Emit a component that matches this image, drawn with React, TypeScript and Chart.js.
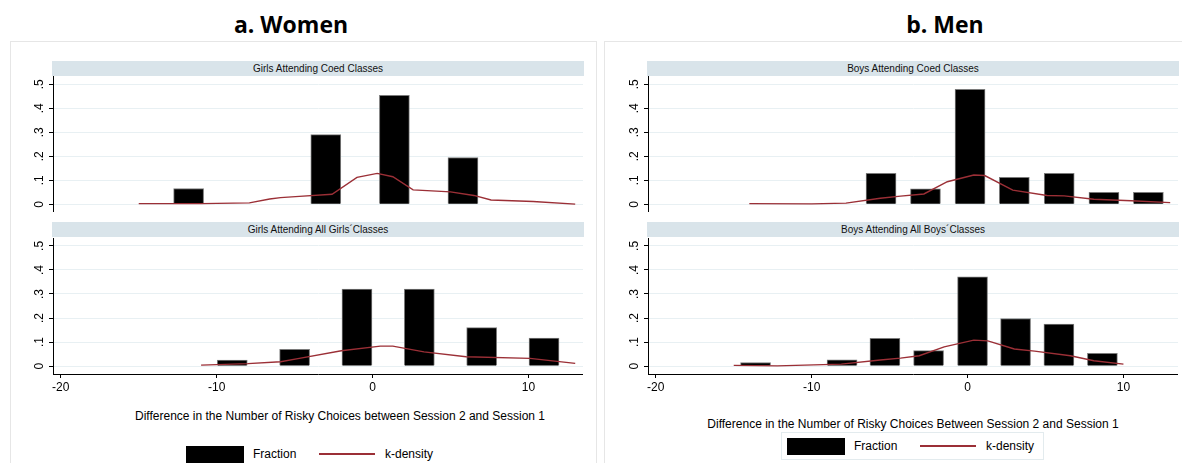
import React, { useEffect, useRef } from 'react';
import { Chart, registerables } from 'chart.js';

Chart.register(...registerables);

// ---------- data ----------
const X_TICKS = [-20, -10, 0, 10];
const Y_TICKS = [0, 0.1, 0.2, 0.3, 0.4, 0.5];
const Y_TICK_LABELS = ['0', '.1', '.2', '.3', '.4', '.5'];

const PANEL_TITLES = ['a. Women', 'b. Men'];
const STRIP_LABELS = [
  'Girls Attending Coed Classes',
  'Girls Attending All Girls\u00B4Classes',
  'Boys Attending Coed Classes',
  'Boys Attending All Boys\u00B4Classes',
];
const X_TITLES = [
  'Difference in the Number of Risky Choices between Session 2 and Session 1',
  'Difference in the Number of Risky Choices Between Session 2 and Session 1',
];
const LEGEND_LABELS = ['Fraction', 'k-density'];

// Women, coed classes
const womenCoedBinX = [-11.8, -3.0, 1.4, 5.8];
const womenCoedFraction = [0.066, 0.29, 0.454, 0.195];
const womenCoedDensityX = [-15.0, -11.0, -7.9, -6.6, -5.9, -4.7, -2.6, -1.0, 0.3, 1.3, 2.6, 5.0, 6.5, 7.6, 10.3, 13.0];
const womenCoedDensityY = [0.003, 0.003, 0.006, 0.022, 0.028, 0.033, 0.042, 0.112, 0.129, 0.115, 0.06, 0.052, 0.037, 0.018, 0.012, 0.001];

// Women, all girls classes
const womenSingleBinX = [-9, -5, -1, 3, 7, 11];
const womenSingleFraction = [0.025, 0.07, 0.32, 0.32, 0.16, 0.116];
const womenSingleDensityX = [-11.0, -8.0, -5.9, -4.7, -2.0, 0.5, 1.3, 3.3, 6.0, 10.1, 13.0];
const womenSingleDensityY = [0.004, 0.01, 0.018, 0.032, 0.064, 0.083, 0.083, 0.059, 0.039, 0.032, 0.011];

// Men, coed classes
const menCoedBinX = [-5.55, -2.7, 0.16, 3.0, 5.88, 8.75, 11.6];
const menCoedFraction = [0.129, 0.065, 0.479, 0.112, 0.129, 0.05, 0.05];
const menCoedDensityX = [-14.0, -10.0, -7.8, -5.6, -4.3, -2.8, -1.3, 0.4, 1.1, 2.9, 5.1, 6.2, 8.1, 10.5, 13.0];
const menCoedDensityY = [0.003, 0.002, 0.005, 0.025, 0.034, 0.043, 0.094, 0.122, 0.12, 0.059, 0.037, 0.035, 0.021, 0.015, 0.007];

// Men, all boys classes
const menSingleBinX = [-13.6, -8.05, -5.3, -2.5, 0.32, 3.08, 5.86, 8.65];
const menSingleFraction = [0.015, 0.026, 0.115, 0.064, 0.371, 0.198, 0.175, 0.053];
const menSingleDensityX = [-15.0, -12.2, -8.1, -5.6, -4.3, -3.1, -1.5, 0.4, 1.3, 3.0, 4.3, 6.6, 8.1, 10.0];
const menSingleDensityY = [0.003, 0.001, 0.008, 0.025, 0.033, 0.043, 0.08, 0.108, 0.105, 0.071, 0.062, 0.043, 0.022, 0.008];

// ---------- styles ----------
const MAROON = '#9b2f36';
const GRID = '#e8f0f3';
const STRIP_BG = '#d9e4ea';
const FONT = '"Liberation Sans", Arial, Helvetica, sans-serif';
const X_MIN = -20.5;
const X_MAX = 13.5;

type Cfg = {
  binX: number[];
  frac: number[];
  kx: number[];
  ky: number[];
  showX: boolean;
};

function makeChart(canvas: HTMLCanvasElement, cfg: Cfg) {
  const bars = cfg.binX.map((x, i) => ({ x, y: cfg.frac[i] }));
  const line = cfg.kx.map((x, i) => ({ x, y: cfg.ky[i] }));
  return new Chart(canvas, {
    type: 'bar',
    data: {
      datasets: [
        {
          type: 'line',
          label: LEGEND_LABELS[1],
          data: line,
          borderColor: MAROON,
          borderWidth: 1.4,
          pointRadius: 0,
          tension: 0,
          fill: false,
          order: 0,
        } as any,
        {
          type: 'bar',
          label: LEGEND_LABELS[0],
          data: bars,
          backgroundColor: '#000',
          borderColor: '#7a7a7a',
          borderWidth: 1,
          barThickness: 30,
          order: 1,
        } as any,
      ],
    },
    options: {
      animation: false,
      responsive: false,
      devicePixelRatio: 1,
      layout: { padding: 0 },
      plugins: {
        legend: { display: false },
        tooltip: { enabled: false },
        title: { display: false },
      },
      scales: {
        x: {
          type: 'linear',
          min: X_MIN,
          max: X_MAX,
          offset: false,
          display: cfg.showX,
          afterBuildTicks: (s: any) => {
            s.ticks = X_TICKS.map((v) => ({ value: v }));
          },
          afterFit: (s: any) => {
            s.height = cfg.showX ? 26 : 0;
            s.paddingLeft = 0;
            s.paddingRight = 0;
          },
          grid: {
            offset: false,
            drawOnChartArea: false,
            drawTicks: true,
            tickLength: 4,
            tickColor: '#000',
          },
          border: { display: true, color: '#000', width: 1 },
          ticks: {
            padding: 2,
            maxRotation: 0,
            minRotation: 0,
            color: '#000',
            font: { family: FONT, size: 12 },
            callback: (v: any) => String(v),
          },
        },
        y: {
          type: 'linear',
          min: cfg.showX ? -0.033 : -0.032,
          max: cfg.showX ? 0.533 : 0.5345,
          afterBuildTicks: (s: any) => {
            s.ticks = Y_TICKS.map((v) => ({ value: v }));
          },
          afterFit: (s: any) => {
            s.width = 33;
            s.paddingTop = 0;
            s.paddingBottom = 0;
          },
          grid: {
            color: GRID,
            lineWidth: 1,
            drawTicks: true,
            tickLength: 4,
            tickColor: '#000',
          },
          border: { display: true, color: '#000', width: 1 },
          ticks: {
            minRotation: 90,
            maxRotation: 90,
            crossAlign: 'center',
            padding: 4,
            color: '#000',
            font: { family: FONT, size: 12 },
            callback: (_v: any, i: number) => Y_TICK_LABELS[i],
          },
        },
      },
    } as any,
  });
}

const abs = (l: number, t: number, w: number, h: number): React.CSSProperties => ({
  position: 'absolute',
  left: l,
  top: t,
  width: w,
  height: h,
});

export default function App() {
  const r1 = useRef<HTMLCanvasElement>(null);
  const r2 = useRef<HTMLCanvasElement>(null);
  const r3 = useRef<HTMLCanvasElement>(null);
  const r4 = useRef<HTMLCanvasElement>(null);

  useEffect(() => {
    const charts = [
      makeChart(r1.current!, { binX: womenCoedBinX, frac: womenCoedFraction, kx: womenCoedDensityX, ky: womenCoedDensityY, showX: false }),
      makeChart(r2.current!, { binX: womenSingleBinX, frac: womenSingleFraction, kx: womenSingleDensityX, ky: womenSingleDensityY, showX: true }),
      makeChart(r3.current!, { binX: menCoedBinX, frac: menCoedFraction, kx: menCoedDensityX, ky: menCoedDensityY, showX: false }),
      makeChart(r4.current!, { binX: menSingleBinX, frac: menSingleFraction, kx: menSingleDensityX, ky: menSingleDensityY, showX: true }),
    ];
    return () => charts.forEach((c) => c.destroy());
  }, []);

  const strip = (l: number, t: number, w: number, label: string) => (
    <div
      style={{
        ...abs(l, t, w, 15),
        background: STRIP_BG,
        color: '#111',
        fontFamily: FONT,
        fontSize: 10,
        lineHeight: '15px',
        textAlign: 'center',
        whiteSpace: 'nowrap',
      }}
    >
      {label}
    </div>
  );

  const text = (cx: number, t: number, s: string, extra: React.CSSProperties = {}) => (
    <div
      style={{
        position: 'absolute',
        left: cx,
        top: t,
        transform: 'translateX(-50%)',
        fontFamily: FONT,
        fontSize: 12,
        lineHeight: '14px',
        color: '#000',
        whiteSpace: 'nowrap',
        ...extra,
      }}
    >
      {s}
    </div>
  );

  const legendItem = (x: number, cy: number) => (
    <>
      <div style={{ ...abs(x, cy - 8.5, 58, 17), background: '#000' }} />
      <div style={{ position: 'absolute', left: x + 67, top: cy - 7, fontFamily: FONT, fontSize: 12, lineHeight: '14px', whiteSpace: 'nowrap' }}>
        {LEGEND_LABELS[0]}
      </div>
      <div style={{ ...abs(x + 133, cy - 0.7, 56, 1.4), background: MAROON }} />
      <div style={{ position: 'absolute', left: x + 199, top: cy - 7, fontFamily: FONT, fontSize: 12, lineHeight: '14px', whiteSpace: 'nowrap' }}>
        {LEGEND_LABELS[1]}
      </div>
    </>
  );

  return (
    <div style={{ position: 'fixed', left: 0, top: 0, width: 1182, height: 463, background: '#fff', overflow: 'hidden' }}>
      {/* panel frames */}
      <div style={{ ...abs(10, 41, 587, 440), border: '1px solid #e6e6e6', boxSizing: 'border-box' }} />
      <div style={{ ...abs(604, 41, 600, 440), border: '1px solid #e6e6e6', boxSizing: 'border-box' }} />

      {/* panel titles */}
      <div style={{ position: 'absolute', left: 291, top: 13, transform: 'translateX(-50%)', fontFamily: '"Open Sans", sans-serif', fontWeight: 700, fontSize: 23, lineHeight: '23px', whiteSpace: 'nowrap' }}>
        {PANEL_TITLES[0]}
      </div>
      <div style={{ position: 'absolute', left: 945, top: 13, transform: 'translateX(-50%)', fontFamily: '"Open Sans", sans-serif', fontWeight: 700, fontSize: 23, lineHeight: '23px', whiteSpace: 'nowrap' }}>
        {PANEL_TITLES[1]}
      </div>

      {/* strips */}
      {strip(52, 61, 532, STRIP_LABELS[0])}
      {strip(52, 222, 532, STRIP_LABELS[1])}
      {strip(647, 61, 532, STRIP_LABELS[2])}
      {strip(647, 222, 532, STRIP_LABELS[3])}

      {/* charts */}
      <canvas ref={r1} width={563} height={136} style={abs(20, 76, 563, 136)} />
      <canvas ref={r2} width={563} height={162} style={abs(20, 238, 563, 162)} />
      <canvas ref={r3} width={563} height={136} style={abs(615, 76, 563, 136)} />
      <canvas ref={r4} width={563} height={162} style={abs(615, 238, 563, 162)} />

      {/* axis titles */}
      {text(340, 409, X_TITLES[0])}
      {text(913, 417, X_TITLES[1])}

      {/* legends */}
      {legendItem(186, 454)}
      <div style={{ ...abs(781, 432, 263, 28), border: '1px solid #e3ebee', boxSizing: 'border-box' }} />
      {legendItem(787, 446)}
    </div>
  );
}
